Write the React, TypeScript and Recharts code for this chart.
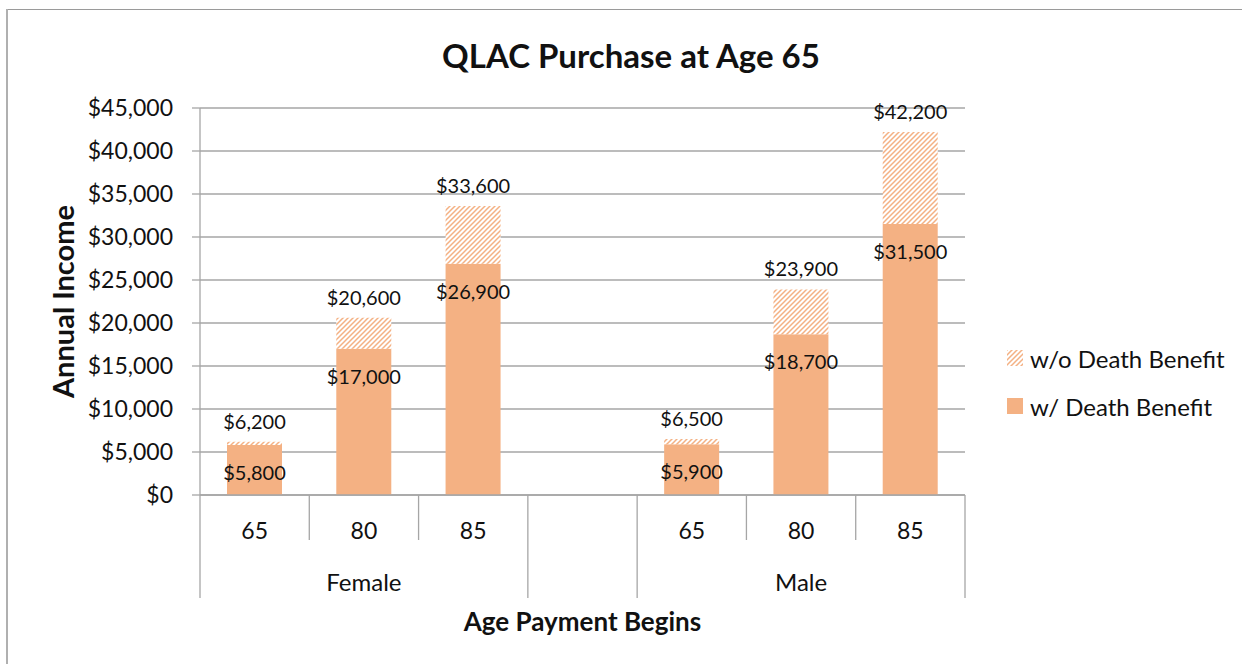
import { Bar, BarChart, CartesianGrid, LabelList, XAxis, YAxis } from "recharts";

const ages = ["65", "80", "85", "", "65", "80", "85"];
const genders = ["Female", "Female", "Female", "", "Male", "Male", "Male"];
const withDeathBenefit = [5800, 17000, 26900, null, 5900, 18700, 31500];
const withoutDeathBenefit = [6200, 20600, 33600, null, 6500, 23900, 42200];
const yTicks = [0, 5000, 10000, 15000, 20000, 25000, 30000, 35000, 40000, 45000];

const FONT = "Lato, 'Open Sans', sans-serif";
const ORANGE = "#F4B183";
const GRID = "#a6a6a6";

const CHART_W = 1242;
const CHART_H = 656;
const MARGIN = { top: 100, right: 285, left: 82, bottom: 29 };
const Y_AXIS_W = 110;
const X_AXIS_H = 140;
const PLOT_W = CHART_W - MARGIN.left - MARGIN.right - Y_AXIS_W;
const SLOT = PLOT_W / ages.length;

const data = ages.map((age, i) => ({
    key: `${genders[i]}-${age}-${i}`,
    age,
    gender: genders[i],
    withDB: withDeathBenefit[i],
    extra: withoutDeathBenefit[i] != null && withDeathBenefit[i] != null ? withoutDeathBenefit[i]! - withDeathBenefit[i]! : null,
    total: withoutDeathBenefit[i],
}));

const money = (v: number) => "$" + v.toLocaleString("en-US");

const CategoryTick = (props: any) => {
    const { x, y, payload } = props;
    const i = payload.index;
    const row = data[i];
    const left = x - SLOT / 2;
    const longLeft = i === 0 || i === 3 || i === 4;
    const isMid = i === 1 || i === 5;
    return (
        <g>
            <line x1={left} x2={left} y1={y} y2={y + (longLeft ? 103 : 45)} stroke={GRID} strokeWidth={1.3} />
            {i === ages.length - 1 && (
                <line x1={x + SLOT / 2} x2={x + SLOT / 2} y1={y} y2={y + 103} stroke={GRID} strokeWidth={1.3} />
            )}
            <text x={x} y={y + 35} textAnchor="middle" dominantBaseline="central" fontSize={23} fontFamily={FONT} fill="#111">
                {row.age}
            </text>
            {isMid && (
                <text x={x} y={y + 86} textAnchor="middle" dominantBaseline="central" fontSize={24} fontFamily={FONT} fill="#111">
                    {row.gender}
                </text>
            )}
        </g>
    );
};

const InsideLabel = (props: any) => {
    const { x, y, width, value } = props;
    if (value == null) return null;
    return (
        <text x={x + width / 2} y={y + 27} textAnchor="middle" dominantBaseline="central" fontSize={20} fontFamily={FONT} fill="#111">
            {money(value)}
        </text>
    );
};

const TopLabel = (props: any) => {
    const { x, y, width, value } = props;
    if (value == null) return null;
    return (
        <text x={x + width / 2} y={y - 21} textAnchor="middle" dominantBaseline="central" fontSize={20} fontFamily={FONT} fill="#111">
            {money(value)}
        </text>
    );
};

const HatchPattern = ({ id }: { id: string }) => (
    <pattern id={id} patternUnits="userSpaceOnUse" width={5} height={5}>
        <rect width={5} height={5} fill="#fff" />
        <path d="M0,5 L5,0 M-1,1 L1,-1 M4,6 L6,4" stroke={ORANGE} strokeWidth={1.5} />
    </pattern>
);

const legendItems = [
    { name: "w/o Death Benefit", fill: "url(#hatchLegend)" },
    { name: "w/ Death Benefit", fill: ORANGE },
];

export default function App() {
    return (
        <div style={{ position: "relative", width: CHART_W, height: CHART_H, overflow: "hidden", fontFamily: FONT }}>
            <div
                style={{
                    position: "fixed",
                    left: 6,
                    top: 9,
                    width: 2,
                    height: 700,
                    background: "#b0b0b0",
                }}
            />
            <div
                style={{
                    position: "absolute",
                    left: 0,
                    top: 1,
                    width: CHART_W + 10,
                    height: 1,
                    background: "#9a9a9a",
                }}
            />
            <div
                style={{
                    position: "absolute",
                    left: 0,
                    width: 1246,
                    top: 29,
                    textAlign: "center",
                    fontSize: 33,
                    fontWeight: 700,
                    color: "#111",
                    lineHeight: "36px",
                }}
            >
                QLAC Purchase at Age 65
            </div>
            <BarChart width={CHART_W} height={CHART_H} data={data} margin={MARGIN} barSize={55}>
                <defs>
                    <HatchPattern id="hatch" />
                </defs>
                <CartesianGrid vertical={false} stroke={GRID} strokeWidth={1.3} />
                <XAxis
                    dataKey="key"
                    height={X_AXIS_H}
                    axisLine={{ stroke: GRID, strokeWidth: 1.3 }}
                    tickLine={false}
                    tickSize={0}
                    tickMargin={0}
                    interval={0}
                    tick={<CategoryTick />}
                    label={{
                        content: (p: any) => {
                            const vb = p.viewBox;
                            return (
                                <text
                                    x={vb.x + vb.width / 2}
                                    y={vb.y + 126}
                                    textAnchor="middle"
                                    dominantBaseline="central"
                                    fontSize={26}
                                    fontWeight={700}
                                    fontFamily={FONT}
                                    fill="#111"
                                >
                                    Age Payment Begins
                                </text>
                            );
                        },
                    }}
                />
                <YAxis
                    width={Y_AXIS_W}
                    domain={[0, 45000]}
                    ticks={yTicks}
                    interval={0}
                    tickFormatter={money}
                    axisLine={{ stroke: GRID, strokeWidth: 1.3 }}
                    tickLine={{ stroke: GRID, strokeWidth: 1.3 }}
                    tickSize={8}
                    tickMargin={19}
                    tick={{ fontSize: 23, fontFamily: FONT, fill: "#111" }}
                    label={{
                        content: (p: any) => {
                            const vb = p.viewBox;
                            const cx = 54;
                            const cy = vb.y + vb.height / 2;
                            return (
                                <text
                                    x={cx}
                                    y={cy}
                                    transform={`rotate(-90 ${cx} ${cy})`}
                                    textAnchor="middle"
                                    dominantBaseline="central"
                                    fontSize={29}
                                    fontWeight={700}
                                    fontFamily={FONT}
                                    fill="#111"
                                >
                                    Annual Income
                                </text>
                            );
                        },
                    }}
                />
                <Bar dataKey="withDB" stackId="a" fill={ORANGE} isAnimationActive={false}>
                    <LabelList dataKey="withDB" content={<InsideLabel />} />
                </Bar>
                <Bar dataKey="extra" stackId="a" fill="url(#hatch)" isAnimationActive={false}>
                    <LabelList dataKey="total" content={<TopLabel />} />
                </Bar>
            </BarChart>
            <div style={{ position: "absolute", left: 999, top: 326 }}>
                {legendItems.map((item) => (
                    <div key={item.name} style={{ display: "flex", alignItems: "center", height: 48 }}>
                        <svg width={16} height={16} style={{ marginRight: 7 }}>
                            <defs>
                                <HatchPattern id="hatchLegend" />
                            </defs>
                            <rect width={16} height={16} fill={item.fill} />
                        </svg>
                        <span style={{ fontSize: 24, color: "#111", whiteSpace: "nowrap" }}>{item.name}</span>
                    </div>
                ))}
            </div>
        </div>
    );
}
